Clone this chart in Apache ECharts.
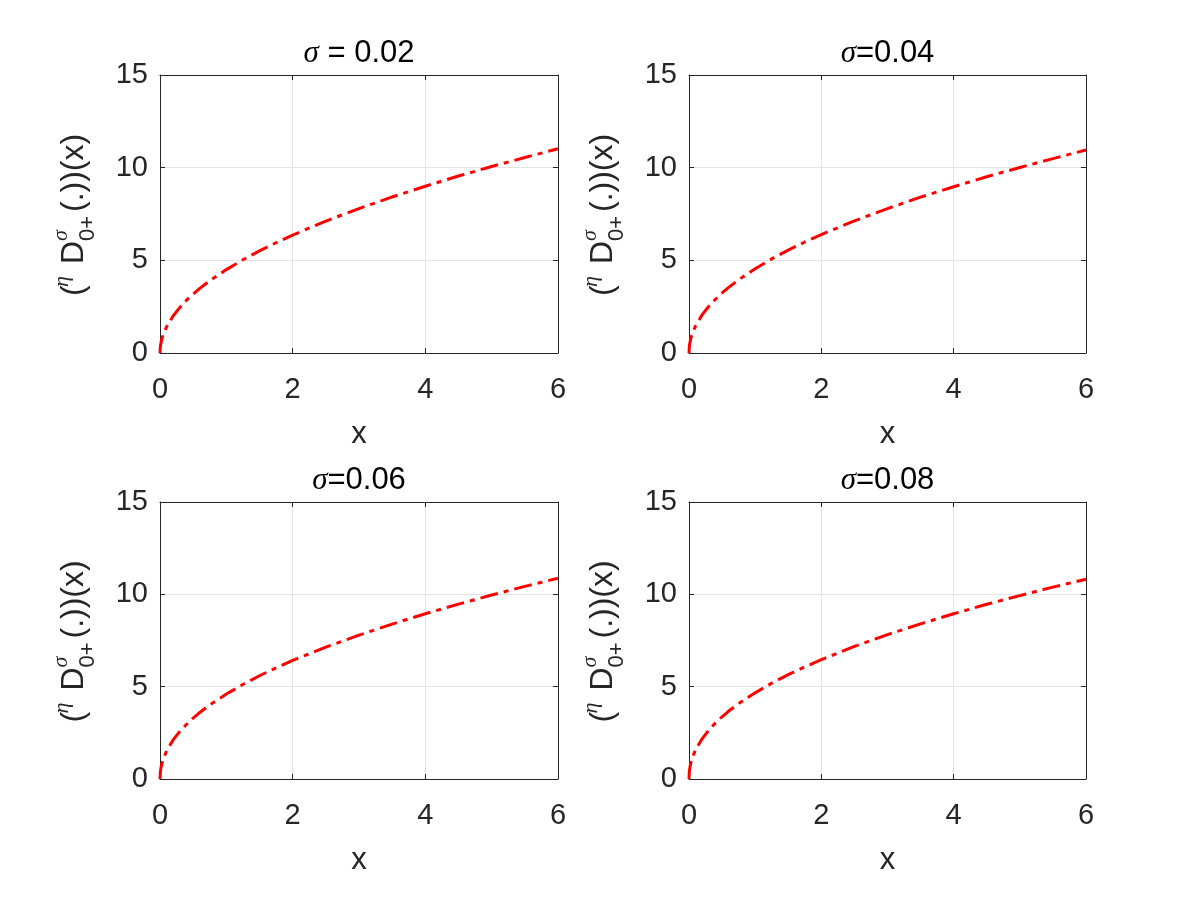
<!DOCTYPE html>
<html>
<head>
<meta charset="utf-8">
<script src="https://cdn.jsdelivr.net/npm/echarts@6/dist/echarts.min.js"></script>
<style>
  html, body { margin: 0; padding: 0; background: #fff; }
  #main { width: 1200px; height: 900px; }
</style>
</head>
<body>
<div id="main"></div>
<script>
    // x samples shared by all four panels
    var xValues = [0, 0.005, 0.01, 0.02, 0.03, 0.05, 0.1, 0.2, 0.3, 0.4, 0.5, 0.6, 0.75, 1, 1.25, 1.5, 1.75, 2, 2.5, 3, 3.5, 4, 4.5, 5, 5.5, 6];
    // values
    var ySigma002 = [0, 0.32, 0.45, 0.64, 0.78, 1.01, 1.42, 2.01, 2.46, 2.85, 3.18, 3.49, 3.90, 4.50, 5.03, 5.51, 5.95, 6.36, 7.12, 7.79, 8.42, 9.00, 9.55, 10.06, 10.55, 11.02];
    var ySigma004 = [0, 0.34, 0.48, 0.67, 0.82, 1.05, 1.47, 2.07, 2.52, 2.90, 3.24, 3.54, 3.95, 4.55, 5.08, 5.55, 5.99, 6.39, 7.13, 7.79, 8.41, 8.97, 9.51, 10.01, 10.49, 10.95];
    var ySigma006 = [0, 0.36, 0.50, 0.70, 0.85, 1.09, 1.52, 2.13, 2.58, 2.96, 3.30, 3.60, 4.01, 4.60, 5.12, 5.59, 6.02, 6.42, 7.14, 7.79, 8.39, 8.95, 9.47, 9.96, 10.43, 10.87];
    var ySigma008 = [0, 0.39, 0.54, 0.75, 0.90, 1.15, 1.59, 2.19, 2.65, 3.04, 3.37, 3.68, 4.08, 4.67, 5.19, 5.65, 6.07, 6.46, 7.18, 7.82, 8.40, 8.95, 9.46, 9.93, 10.39, 10.82];
    var seriesValues = [ySigma002, ySigma004, ySigma006, ySigma008];
    var titleTexts = ['{s|σ} = 0.02', '{s|σ}=0.04', '{s|σ}=0.06', '{s|σ}=0.08'];
    var xTicks = { min: 0, max: 6, interval: 2 };
    var yTicks = { min: 0, max: 15, interval: 5 };

    var panels = [
        { left: 160, top: 75, width: 398, height: 278 },
        { left: 689, top: 75, width: 397, height: 278 },
        { left: 160, top: 502, width: 398, height: 277 },
        { left: 689, top: 502, width: 397, height: 277 }
    ];

    var font = 'Liberation Sans, Arial, sans-serif';
    var serif = 'Liberation Serif, DejaVu Serif, serif';
    var axisColor = '#262626';

    var option = {
        animation: false,
        backgroundColor: '#fff',
        title: [], grid: [], xAxis: [], yAxis: [], series: [], graphic: []
    };

    panels.forEach(function (p, i) {
        option.grid.push({ left: p.left, top: p.top, width: p.width, height: p.height, containLabel: false });
        option.title.push({
            text: titleTexts[i],
            left: p.left + p.width / 2,
            top: p.top - 37,
            textAlign: 'center',
            padding: 0,
            textStyle: {
                fontFamily: font, fontSize: 31, fontWeight: 'normal', color: '#000',
                rich: { s: { fontFamily: serif, fontStyle: 'italic', fontSize: 31, color: '#000' } }
            }
        });
        var tickStyle = { show: true, inside: true, length: 5, lineStyle: { color: axisColor, width: 1 } };
        option.xAxis.push({
            type: 'value', gridIndex: i, position: 'bottom',
            min: xTicks.min, max: xTicks.max, interval: xTicks.interval,
            name: 'x', nameLocation: 'middle', nameGap: 66,
            nameTextStyle: { fontFamily: font, fontSize: 31, color: axisColor },
            axisLine: { show: true, onZero: false, lineStyle: { color: axisColor, width: 1 } },
            axisTick: tickStyle,
            axisLabel: { fontFamily: font, fontSize: 29, color: axisColor, margin: 22 },
            splitLine: { show: true, lineStyle: { color: '#e3e3e3', width: 1 } }
        });
        option.xAxis.push({
            type: 'value', gridIndex: i, position: 'top',
            min: xTicks.min, max: xTicks.max, interval: xTicks.interval,
            axisLine: { show: true, onZero: false, lineStyle: { color: axisColor, width: 1 } },
            axisTick: tickStyle,
            axisLabel: { show: false },
            splitLine: { show: false }
        });
        option.yAxis.push({
            type: 'value', gridIndex: i, position: 'left',
            min: yTicks.min, max: yTicks.max, interval: yTicks.interval,
            axisLine: { show: true, onZero: false, lineStyle: { color: axisColor, width: 1 } },
            axisTick: tickStyle,
            axisLabel: { fontFamily: font, fontSize: 29, color: axisColor, margin: 12 },
            splitLine: { show: true, lineStyle: { color: '#e3e3e3', width: 1 } }
        });
        option.yAxis.push({
            type: 'value', gridIndex: i, position: 'right',
            min: yTicks.min, max: yTicks.max, interval: yTicks.interval,
            axisLine: { show: true, onZero: false, lineStyle: { color: axisColor, width: 1 } },
            axisTick: tickStyle,
            axisLabel: { show: false },
            splitLine: { show: false }
        });
        option.series.push({
            type: 'line',
            xAxisIndex: i * 2, yAxisIndex: i * 2,
            data: xValues.map(function (x, k) { return [x, seriesValues[i][k]]; }),
            showSymbol: false,
            smooth: false,
            lineStyle: { color: '#ff0000', width: 3, type: [18, 6, 5, 6] },
            z: 5
        });

        // rotated y label: (^η D^σ_0+ (.))(x)
        var cx = p.left - 85.5, cy = p.top + p.height / 2;
        function t(str, x, y, size, fam, italic) {
            return {
                type: 'text', x: x, y: y,
                style: {
                    text: str, fontFamily: fam, fontSize: size, fontStyle: italic ? 'italic' : 'normal',
                    fill: axisColor, align: 'left', verticalAlign: 'middle'
                }
            };
        }
        option.graphic.push({
            type: 'group', x: cx, y: cy, rotation: Math.PI / 2,
            children: [
                t('(', -82, 0, 32, font),
                t('η', -73, -12, 22, serif, true),
                t('D', -50, 0, 32, font),
                t('σ', -27, -13, 22, serif, true),
                t('0+', -27, 13, 22, font),
                t('(.))(x)', 2, 0, 32, font)
            ]
        });
    });

    var myChart = echarts.init(document.getElementById('main'));
    myChart.setOption(option);
    window.addEventListener('resize', function () {
        myChart.resize();
    });
</script>
</body>
</html>
